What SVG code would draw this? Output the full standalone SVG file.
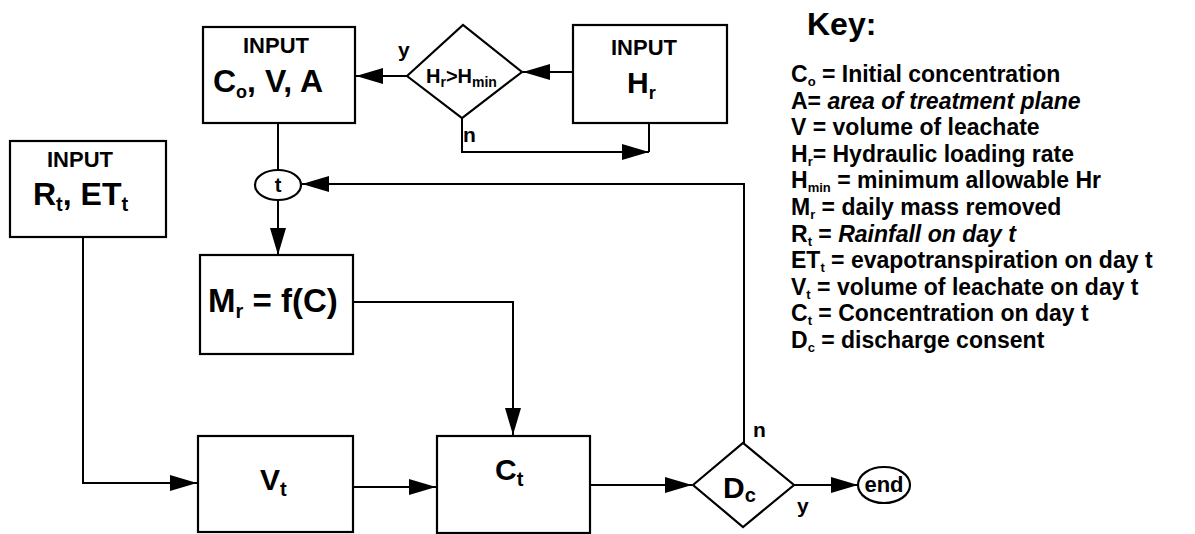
<svg xmlns="http://www.w3.org/2000/svg" width="1195" height="534" viewBox="0 0 1195 534">
<style>
text{font-family:"Liberation Sans",Arial,sans-serif;font-weight:bold;fill:#000}
.box{fill:#fff;stroke:#000;stroke-width:2.2}
.ln{fill:none;stroke:#000;stroke-width:2}
.arr{fill:none;stroke:#000;stroke-width:2;marker-end:url(#ah)}
.inp{font-size:22px;text-anchor:middle}
.big{font-size:32px}
.lbl{font-size:21px}
.key{font-size:23px}
.sub{font-size:13px}
.it{font-style:italic}
</style>
<defs>
<marker id="ah" markerUnits="userSpaceOnUse" markerWidth="28" markerHeight="18" refX="27" refY="8" orient="auto">
<path d="M0,0 L27,8 L0,16 z" fill="#000"/>
</marker>
</defs>
<rect width="1195" height="534" fill="#fff"/>

<g id="connectors">
<line class="arr" x1="407" y1="76" x2="356" y2="76"/>
<line class="arr" x1="573" y1="72" x2="523" y2="72"/>
<polyline class="arr" points="462,118 462,152 649,152"/>
<line class="ln" x1="649" y1="123" x2="649" y2="152"/>
<line class="ln" x1="278" y1="123" x2="278" y2="170"/>
<line class="arr" x1="278" y1="200" x2="278" y2="255"/>
<polyline class="arr" points="744,443 744,184 302,184"/>
<polyline class="arr" points="353,302 513,302 513,435"/>
<polyline class="arr" points="83,237 83,483 197,483"/>
<line class="arr" x1="353" y1="487" x2="436" y2="487"/>
<line class="arr" x1="590" y1="485" x2="692" y2="485"/>
<line class="arr" x1="794" y1="485" x2="858" y2="485"/>
<text class="lbl" x="398" y="57">y</text>
<text class="lbl" x="463" y="142">n</text>
<text class="lbl" x="753" y="437">n</text>
<text class="lbl" x="797" y="513">y</text>
</g>

<g id="input-cva">
<rect class="box" x="203" y="27" width="152" height="96"/>
<text class="inp" x="276" y="53">INPUT</text>
<text class="big" x="213" y="92">C<tspan font-size="18" dy="6">o</tspan><tspan dy="-6">, V, A</tspan></text>
</g>

<g id="decision-hr">
<polygon class="box" points="407,76 463,25 522,72 462,118"/>
<text x="426" y="83" font-size="20">H<tspan font-size="14" dy="4">r</tspan><tspan dy="-4">&gt;H</tspan><tspan font-size="14" dy="4">min</tspan></text>
</g>

<g id="input-hr">
<rect class="box" x="573" y="25" width="154" height="98"/>
<text class="inp" x="644" y="55">INPUT</text>
<text font-size="30" x="627" y="93">H<tspan font-size="18" dy="6">r</tspan></text>
</g>

<g id="t-node">
<ellipse class="box" cx="278" cy="185" rx="23" ry="15"/>
<text font-size="20" x="278" y="192" text-anchor="middle">t</text>
</g>

<g id="input-rt">
<rect class="box" x="10" y="141" width="156" height="96"/>
<text class="inp" x="80" y="167">INPUT</text>
<text class="big" x="33" y="205">R<tspan font-size="20" dy="6">t</tspan><tspan dy="-6">, ET</tspan><tspan font-size="20" dy="6">t</tspan></text>
</g>

<g id="mr">
<rect class="box" x="200" y="255" width="153" height="99"/>
<text font-size="33" x="208" y="312">M<tspan font-size="20" dy="6">r</tspan><tspan dy="-6"> = f(C)</tspan></text>
</g>

<g id="vt">
<rect class="box" x="198" y="436" width="155" height="96"/>
<text font-size="30" x="260" y="490">V<tspan font-size="20" dy="6">t</tspan></text>
</g>

<g id="ct">
<rect class="box" x="437" y="436" width="153" height="97"/>
<text font-size="30" x="495" y="480">C<tspan font-size="20" dy="6">t</tspan></text>
</g>

<g id="decision-dc">
<polygon class="box" points="693,485 743,443 794,485 743,527"/>
<text font-size="30" x="723" y="498">D<tspan font-size="20" dy="4">c</tspan></text>
</g>

<g id="end">
<ellipse class="box" cx="884" cy="485" rx="26" ry="18"/>
<text font-size="22" x="884" y="492" text-anchor="middle">end</text>
</g>

<g id="key">
<text font-size="32" x="807" y="35">Key:</text>
<text class="key" x="791" y="82">C<tspan class="sub" dy="4">o</tspan><tspan dy="-4"> = Initial concentration</tspan></text>
<text class="key" x="791" y="108.6">A=<tspan class="it"> area of treatment plane</tspan></text>
<text class="key" x="791" y="135.2">V = volume of leachate</text>
<text class="key" x="791" y="161.8">H<tspan class="sub" dy="4">r</tspan><tspan dy="-4">= Hydraulic loading rate</tspan></text>
<text class="key" x="791" y="188.4">H<tspan class="sub" dy="4">min</tspan><tspan dy="-4"> = minimum allowable Hr</tspan></text>
<text class="key" x="791" y="215">M<tspan class="sub" dy="4">r</tspan><tspan dy="-4"> = daily mass removed</tspan></text>
<text class="key" x="791" y="241.6">R<tspan class="sub" dy="4">t</tspan><tspan dy="-4"> = </tspan><tspan class="it">Rainfall on day t</tspan></text>
<text class="key" x="791" y="268.2">ET<tspan class="sub" dy="4">t</tspan><tspan dy="-4"> = evapotranspiration on day t</tspan></text>
<text class="key" x="791" y="294.8">V<tspan class="sub" dy="4">t</tspan><tspan dy="-4"> = volume of leachate on day t</tspan></text>
<text class="key" x="791" y="321.4">C<tspan class="sub" dy="4">t</tspan><tspan dy="-4"> = Concentration on day t</tspan></text>
<text class="key" x="791" y="348">D<tspan class="sub" dy="4">c</tspan><tspan dy="-4"> = discharge consent</tspan></text>
</g>
</svg>
